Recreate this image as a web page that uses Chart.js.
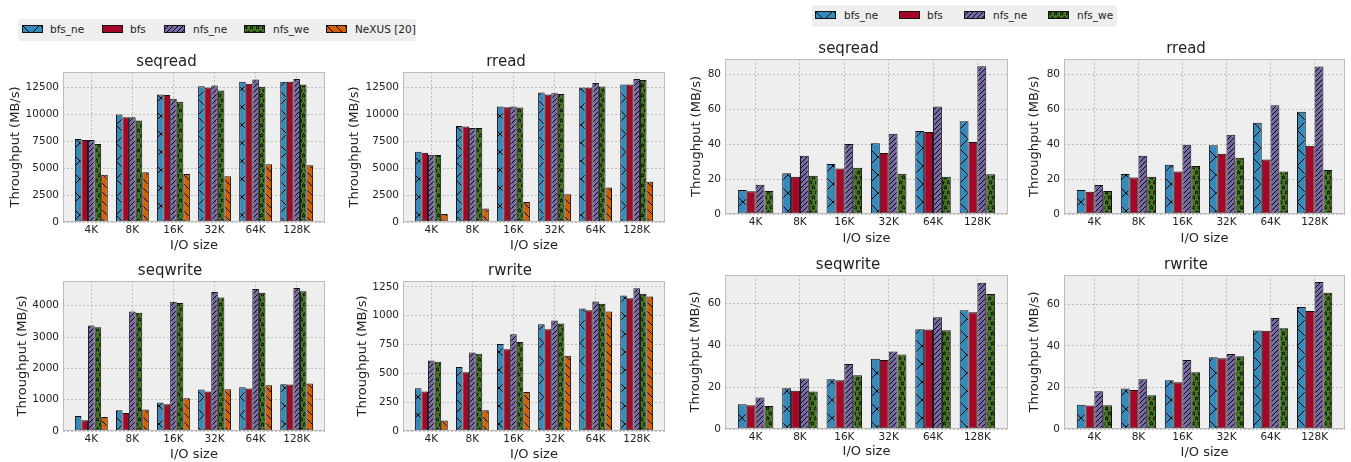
<!DOCTYPE html>
<html>
<head>
<meta charset="utf-8">
<script src="https://cdn.jsdelivr.net/npm/chart.js@4.4.0/dist/chart.umd.min.js"></script>
<style>
  html, body { margin: 0; padding: 0; background: #fff; }
  body { width: 1351px; height: 462px; position: relative; overflow: hidden; font-family: "DejaVu Sans", sans-serif; }
  .panel { position: absolute; }
  .legend { position: absolute; background: #eeeeee; border-radius: 3px; }
  .legend canvas { position: absolute; }
  .legend span { position: absolute; font-size: 10.5px; line-height: 12px; color: #222; white-space: nowrap; }
</style>
</head>
<body>
<script>
// x categories
const sizes = ['4K', '8K', '16K', '32K', '64K', '128K'];

// series names (left group has NeXUS too)
const leftNames  = ['bfs_ne', 'bfs', 'nfs_ne', 'nfs_we', 'NeXUS [20]'];
const rightNames = ['bfs_ne', 'bfs', 'nfs_ne', 'nfs_we'];

// left group, rows = bfs_ne, bfs, nfs_ne, nfs_we, NeXUS  (MB/s)
const leftSeqread = [
  [7700, 9960, 11820, 12590, 13000, 13000],
  [7600, 9710, 11760, 12470, 12810, 13000],
  [7600, 9710, 11410, 12650, 13210, 13250],
  [7230, 9400, 11140, 12190, 12530, 12750],
  [4370, 4620, 4440, 4250, 5340, 5270]
];
const leftRread = [
  [6510, 8900, 10700, 12000, 12470, 12750],
  [6420, 8840, 10640, 11820, 12470, 12750],
  [6230, 8720, 10700, 11940, 12870, 13240],
  [6200, 8720, 10610, 11850, 12560, 13150],
  [744, 1240, 1860, 2570, 3190, 3720]
];
const leftSeqwrite = [
  [480, 661, 907, 1323, 1397, 1493],
  [341, 576, 853, 1259, 1355, 1483],
  [3370, 3819, 4128, 4437, 4533, 4565],
  [3317, 3776, 4085, 4267, 4416, 4459],
  [448, 683, 1045, 1333, 1461, 1515]
];
const leftRwrite = [
  [371, 554, 754, 925, 1061, 1175],
  [342, 510, 708, 882, 1047, 1151],
  [612, 681, 838, 957, 1122, 1238],
  [600, 670, 771, 931, 1102, 1189],
  [90, 180, 339, 653, 1035, 1166]
];

// right group, rows = bfs_ne, bfs, nfs_ne, nfs_we  (MB/s)
const rightSeqread = [
  [13.8, 23.4, 28.6, 40.5, 47.6, 53.1],
  [13.0, 21.3, 26.1, 34.9, 47.0, 41.2],
  [16.7, 33.4, 40.1, 46.0, 61.6, 84.6],
  [13.2, 21.9, 26.5, 23.0, 21.3, 22.8]
];
const rightRread = [
  [13.8, 23.0, 28.2, 39.5, 52.4, 58.7],
  [12.7, 20.9, 24.4, 34.5, 31.3, 39.1],
  [16.7, 33.4, 39.7, 45.5, 62.4, 84.6],
  [13.2, 21.3, 27.6, 32.2, 24.4, 25.3]
];
const rightSeqwrite = [
  [11.8, 19.4, 23.7, 33.5, 47.6, 56.7],
  [11.3, 18.3, 23.3, 32.9, 47.5, 55.7],
  [15.0, 24.1, 31.0, 37.0, 53.3, 69.8],
  [11.0, 17.9, 25.7, 35.6, 47.1, 64.4]
];
const rightRwrite = [
  [11.7, 19.5, 23.5, 34.6, 47.5, 58.8],
  [11.3, 18.8, 22.5, 34.1, 47.3, 56.8],
  [18.2, 24.0, 33.2, 36.1, 53.5, 70.8],
  [11.4, 16.3, 27.4, 35.1, 48.6, 65.7]
];

// bmh colours + hatch per series
const colors  = ['#348ABD', '#A60628', '#7A68A6', '#467821', '#D55E00'];
const hatches = ['x', '', '/', '*', '\\'];

const FONT = "'DejaVu Sans', sans-serif";
const TEXT = '#222';
Chart.defaults.font.family = FONT;

/* ---------------------------
   hatch patterns (matplotlib-ish)
   --------------------------- */
function drawStar(ctx, cx, cy, r) {
  ctx.beginPath();
  for (let k = 0; k < 10; k++) {
    const rr = k % 2 ? r * 0.45 : r;
    const a = -Math.PI / 2 + k * Math.PI / 5;
    const px = cx + rr * Math.cos(a), py = cy + rr * Math.sin(a);
    k ? ctx.lineTo(px, py) : ctx.moveTo(px, py);
  }
  ctx.closePath();
  ctx.stroke();
}

function makePattern(kind, color) {
  if (!kind) return color;
  const c = document.createElement('canvas');
  let w = 8, h = 8;
  if (kind === 'x') { w = h = 18; }
  if (kind === '/') { w = h = 5; }
  if (kind === '\\') { w = h = 9; }
  if (kind === '*') { w = 6; h = 10; }
  c.width = w; c.height = h;
  const g = c.getContext('2d');
  g.fillStyle = color;
  g.fillRect(0, 0, w, h);
  g.strokeStyle = '#000';
  g.lineWidth = 1;
  const s = w;
  const slash = () => { for (const x0 of [-s, 0, s]) { g.beginPath(); g.moveTo(x0, s); g.lineTo(x0 + s, 0); g.stroke(); } };
  const back  = () => { for (const x0 of [-s, 0, s]) { g.beginPath(); g.moveTo(x0, 0); g.lineTo(x0 + s, s); g.stroke(); } };
  if (kind === 'x') { slash(); back(); }
  if (kind === '/') slash();
  if (kind === '\\') back();
  if (kind === '*') {
    g.lineWidth = 0.8;
    drawStar(g, 1.5, 2.5, 2);
    drawStar(g, 4.5, 7.5, 2);
  }
  return g.createPattern(c, 'repeat');
}

const fills = colors.map((col, i) => makePattern(hatches[i], col));

/* ---------------------------
   frame + background like matplotlib axes
   --------------------------- */
const framePlugin = {
  id: 'frame',
  beforeDraw(chart) {
    const { ctx, chartArea: a } = chart;
    ctx.save();
    ctx.fillStyle = '#eeeeee';
    ctx.fillRect(a.left, a.top, a.right - a.left, a.bottom - a.top);
    ctx.restore();
  },
  afterDatasetsDraw(chart) {
    const { ctx, chartArea: a } = chart;
    ctx.save();
    ctx.strokeStyle = '#bcbcbc';
    ctx.lineWidth = 1;
    ctx.strokeRect(a.left + 0.5, a.top + 0.5, a.right - a.left - 1, a.bottom - a.top - 1);
    ctx.restore();
  }
};

/* ---------------------------
   panels
   --------------------------- */
const panels = [
  { title: 'seqread',  rows: leftSeqread,  names: leftNames,  yMax: 13900, step: 2500, f: [63, 72, 325, 222],   yW: 55, xH: 31 },
  { title: 'rread',    rows: leftRread,    names: leftNames,  yMax: 13900, step: 2500, f: [403, 72, 665, 222],  yW: 56, xH: 31 },
  { title: 'seqwrite', rows: leftSeqwrite, names: leftNames,  yMax: 4790,  step: 1000, f: [63, 281, 325, 431],  yW: 48, xH: 31 },
  { title: 'rwrite',   rows: leftRwrite,   names: leftNames,  yMax: 1300,  step: 250,  f: [403, 281, 665, 431], yW: 48, xH: 31 },
  { title: 'seqread',  rows: rightSeqread, names: rightNames, yMax: 88.8,  step: 20,   f: [725, 59, 1008, 214],  yW: 36, xH: 32 },
  { title: 'rread',    rows: rightRread,   names: rightNames, yMax: 88.9,  step: 20,   f: [1064, 59, 1345, 214], yW: 37, xH: 32 },
  { title: 'seqwrite', rows: rightSeqwrite,names: rightNames, yMax: 73.5,  step: 20,   f: [725, 275, 1008, 429], yW: 37, xH: 30 },
  { title: 'rwrite',   rows: rightRwrite,  names: rightNames, yMax: 74.2,  step: 20,   f: [1064, 275, 1345, 429],yW: 37, xH: 31 }
];

const tickFont = { family: FONT, size: 10.5 };
const labelFont = { family: FONT, size: 13 };

panels.forEach(p => {
  const [l, t, r, b] = p.f;
  const left = l - p.yW, top = t - 19;
  const width = r - left + 2, height = b + p.xH - top;

  const div = document.createElement('div');
  div.className = 'panel';
  Object.assign(div.style, { left: left + 'px', top: top + 'px', width: width + 'px', height: height + 'px' });
  const canvas = document.createElement('canvas');
  canvas.width = width; canvas.height = height;
  div.appendChild(canvas);
  document.body.appendChild(div);

  const datasets = p.rows.map((vals, i) => ({
    label: p.names[i],
    data: vals.map((v, k) => ({ x: k, y: v })),
    backgroundColor: fills[i],
    borderColor: '#111',
    borderWidth: 1,
    borderSkipped: false,
    barPercentage: 1,
    categoryPercentage: 0.8
  }));

  new Chart(canvas.getContext('2d'), {
    type: 'bar',
    data: { datasets },
    options: {
      responsive: false,
      animation: false,
      devicePixelRatio: 1,
      layout: { padding: { right: 2 } },
      plugins: {
        legend: { display: false },
        tooltip: { enabled: false },
        title: { display: true, text: p.title, color: TEXT, font: { family: FONT, size: 15, weight: 'normal' }, padding: { top: 0, bottom: 1 } }
      },
      scales: {
        x: {
          type: 'linear', min: -0.69, max: 5.69, offset: false, bounds: 'data',
          afterBuildTicks: s => { s.ticks = sizes.map((_, i) => ({ value: i })); },
          afterFit: s => { s.height = p.xH; },
          ticks: { callback: v => sizes[v], color: TEXT, font: tickFont, padding: 2, maxRotation: 0, autoSkip: false },
          grid: { color: '#b2b2b2', lineWidth: 0.8, drawTicks: false, offset: false },
          border: { display: false, dash: [2, 2] },
          title: { display: true, text: 'I/O size', color: TEXT, font: labelFont, padding: 0 }
        },
        y: {
          min: 0, max: p.yMax, bounds: 'data',
          afterBuildTicks: s => {
            const t = [];
            for (let v = 0; v <= p.yMax; v += p.step) t.push({ value: v });
            s.ticks = t;
          },
          afterFit: s => { s.width = p.yW; },
          ticks: { callback: v => String(v), color: TEXT, font: tickFont, padding: 4 },
          grid: { color: '#b2b2b2', lineWidth: 0.8, drawTicks: false },
          border: { display: false, dash: [2, 2] },
          title: { display: true, text: 'Throughput (MB/s)', color: TEXT, font: labelFont, padding: 0 }
        }
      }
    },
    plugins: [framePlugin]
  });
});

/* ---------------------------
   legends (html, swatches use the same patterns)
   --------------------------- */
function buildLegend(box, names, swX, txtX) {
  const lg = document.createElement('div');
  lg.className = 'legend';
  Object.assign(lg.style, { left: box[0] + 'px', top: box[1] + 'px', width: box[2] + 'px', height: box[3] + 'px' });
  names.forEach((n, i) => {
    const sw = document.createElement('canvas');
    sw.width = 21; sw.height = 8;
    sw.style.left = swX[i] + 'px';
    sw.style.top = '6px';
    const g = sw.getContext('2d');
    g.fillStyle = fills[i];
    g.fillRect(0, 0, 21, 8);
    g.strokeStyle = '#111';
    g.lineWidth = 1;
    g.strokeRect(0.5, 0.5, 20, 7);
    lg.appendChild(sw);
    const sp = document.createElement('span');
    sp.textContent = n;
    sp.style.left = txtX[i] + 'px';
    sp.style.top = '4px';
    lg.appendChild(sp);
  });
  document.body.appendChild(lg);
}

buildLegend([18, 19, 398, 22], leftNames, [4, 84, 146, 226, 308], [32, 112, 175, 255, 337]);
buildLegend([812, 5, 305, 22], rightNames, [3, 87, 152, 236], [32, 115, 181, 265]);
</script>
</body>
</html>
